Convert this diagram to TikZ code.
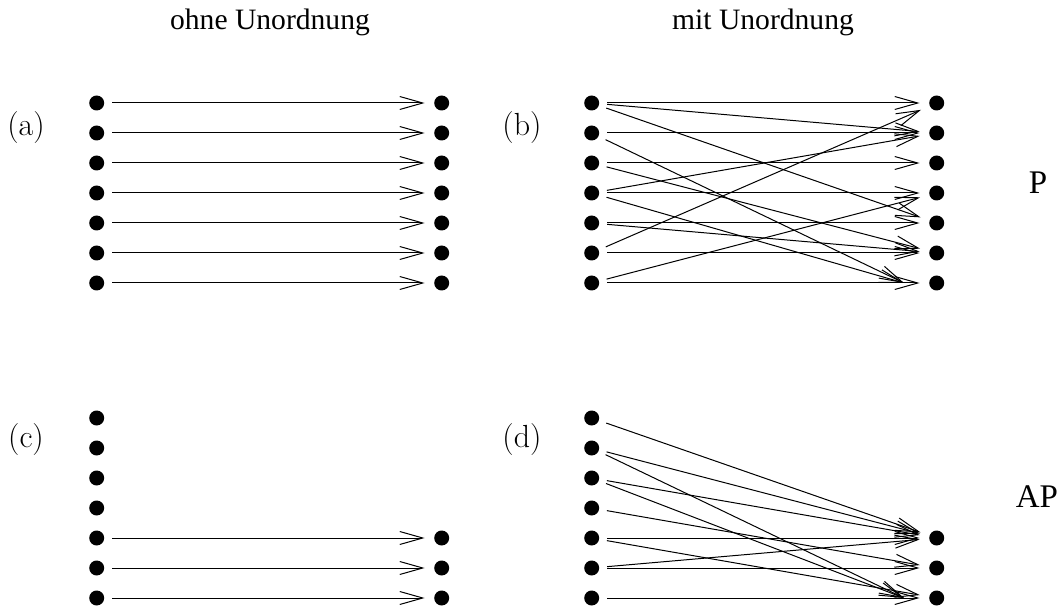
\documentclass[tikz,border=0pt]{standalone}
\usepackage{fontspec}
\newfontfamily\timesfont{Liberation Serif}
\usetikzlibrary{arrows.meta}

\tikzset{
  punkt/.style={circle, fill=black, inner sep=0pt, minimum size=7.5pt},
  pfeil/.style={-{Straight Barb[length=11.5pt,width=6.5pt]}, line width=0.5pt,
                shorten <=3.75pt, shorten >=4.6pt},
  titel/.style={font=\timesfont\fontsize{14.8}{17}\selectfont},
  seite/.style={font=\timesfont\fontsize{16.5}{19}\selectfont},
  marke/.style={font=\fontsize{16}{19}\selectfont},
}

\begin{document}
\begin{tikzpicture}[x=0.5pt,y=-0.5pt]
    \useasboundingbox (0,0) rectangle (1062,610);

    %----- TITLES -----
    \node[titel] (ohne) at (270,22) {ohne Unordnung};
    \node[titel] (mit)  at (763,22) {mit Unordnung};

    %----- LABELS -----
    \node[marke] (la) at (26,128)  {(a)};
    \node[marke] (lb) at (522,128) {(b)};
    \node[marke] (lc) at (26,440)  {(c)};
    \node[marke] (ld) at (522,440) {(d)};
    \node[seite] (p)  at (1038,183) {P};
    \node[seite] (ap) at (1037,497) {AP};

    %----- DOTS -----
    \foreach \i in {1,...,7} {
        \pgfmathsetmacro{\yo}{103+30*(\i-1)}
        \pgfmathsetmacro{\yu}{418+30*(\i-1)}
        \node[punkt] (al\i) at (96.7,\yo)  {};
        \node[punkt] (ar\i) at (441.7,\yo) {};
        \node[punkt] (bl\i) at (591.7,\yo) {};
        \node[punkt] (br\i) at (936.7,\yo) {};
        \node[punkt] (cl\i) at (96.7,\yu)  {};
        \node[punkt] (dl\i) at (591.7,\yu) {};
    }
    \foreach \i in {5,6,7} {
        \pgfmathsetmacro{\yu}{418+30*(\i-1)}
        \node[punkt] (cr\i) at (441.7,\yu) {};
        \node[punkt] (dr\i) at (936.7,\yu) {};
    }

    % short tips at the lowest row
    \coordinate (bq) at (904,283);
    \coordinate (dq) at (904,598);

    %----- (a) WITHOUT DISORDER -----
    \foreach \i in {1,...,7}
        \draw[pfeil] (al\i) -- (ar\i);

    %----- (b) WITH DISORDER -----
    \foreach \a/\b in {1/1,1/2,1/5,2/2,3/3,3/6,4/4,4/2,5/5,5/6,6/6,6/1,7/7,7/4}
        \draw[pfeil] (bl\a) -- (br\b);
    \draw[pfeil, shorten >=0pt] (bl2) -- (bq);
    \draw[pfeil, shorten >=0pt] (bl4) -- (bq);

    %----- (c) WITHOUT DISORDER -----
    \foreach \i in {5,6,7}
        \draw[pfeil] (cl\i) -- (cr\i);

    %----- (d) WITH DISORDER -----
    \foreach \a/\b in {1/5,2/5,3/5,4/6,5/5,5/7,6/6,6/5,7/7}
        \draw[pfeil] (dl\a) -- (dr\b);
    \draw[pfeil, shorten >=0pt] (dl2) -- (dq);
    \draw[pfeil, shorten >=0pt] (dl3) -- (dq);

\end{tikzpicture}
\end{document}
